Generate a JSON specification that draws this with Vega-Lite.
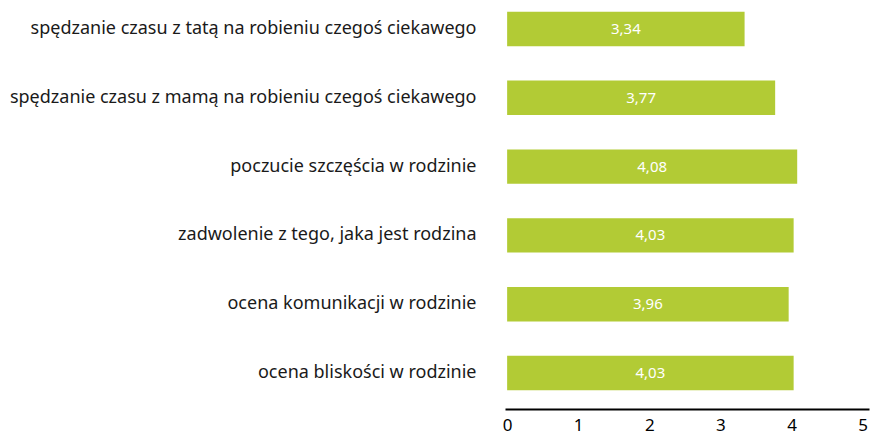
{
  "$schema": "https://vega.github.io/schema/vega-lite/v6.json",
  "autosize": {"type": "none"},
  "width": 364,
  "height": 402,
  "padding": {"left": 505, "top": 0, "right": 2, "bottom": 34},
  "background": "white",
  "config": {"view": {"stroke": null}, "font": "Noto Sans"},
  "data": {
    "values": [
      {"label": "spędzanie czasu z tatą na robieniu czegoś ciekawego", "value": 3.34, "text": "3,34"},
      {"label": "spędzanie czasu z mamą na robieniu czegoś ciekawego", "value": 3.77, "text": "3,77"},
      {"label": "poczucie szczęścia w rodzinie", "value": 4.08, "text": "4,08"},
      {"label": "zadwolenie z tego, jaka jest rodzina", "value": 4.03, "text": "4,03"},
      {"label": "ocena komunikacji w rodzinie", "value": 3.96, "text": "3,96"},
      {"label": "ocena bliskości w rodzinie", "value": 4.03, "text": "4,03"}
    ]
  },
  "transform": [{"calculate": "datum.value / 2", "as": "mid"}],
  "encoding": {
    "y": {
      "field": "label",
      "type": "nominal",
      "sort": null,
      "title": null,
      "scale": {"paddingInner": 0.5, "paddingOuter": 0.171},
      "axis": {
        "domain": false,
        "ticks": false,
        "labelPadding": 29,
        "labelFontSize": 18,
        "labelColor": "#1a1a1a",
        "labelLimit": 500
      }
    }
  },
  "layer": [
    {
      "mark": {"type": "bar", "color": "#b2cb35"},
      "encoding": {
        "x": {
          "field": "value",
          "type": "quantitative",
          "title": null,
          "scale": {"domain": [-0.03, 5.09], "nice": false, "zero": false},
          "axis": {
            "values": [0, 1, 2, 3, 4, 5],
            "format": "d",
            "grid": false,
            "ticks": false,
            "domainColor": "#000000",
            "domainWidth": 2,
            "offset": 7,
            "labelPadding": 8,
            "labelFontSize": 17,
            "labelColor": "#000000",
            "labelFlush": false
          }
        }
      }
    },
    {
      "mark": {"type": "text", "color": "white", "fontSize": 15, "align": "center", "baseline": "middle"},
      "encoding": {
        "x": {"field": "mid", "type": "quantitative"},
        "text": {"field": "text"}
      }
    }
  ]
}
